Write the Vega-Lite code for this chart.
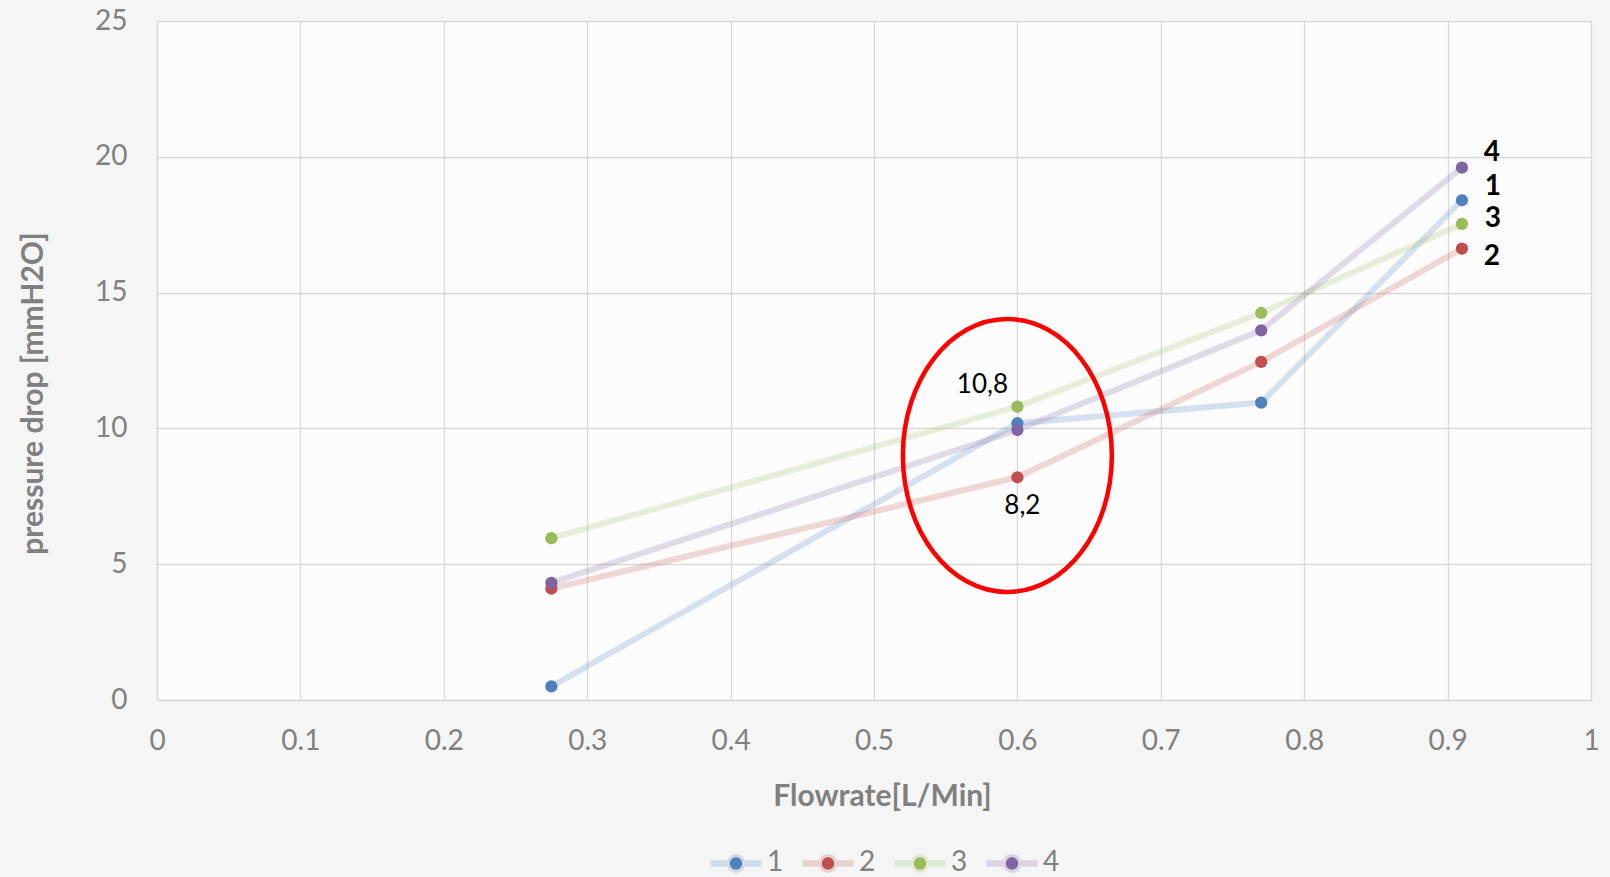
{
  "$schema": "https://vega.github.io/schema/vega-lite/v6.json",
  "width": 1434,
  "height": 679,
  "autosize": {"type": "none"},
  "padding": {"left": 157, "top": 21, "right": 19, "bottom": 177},
  "background": "#f5f5f5",
  "config": {
    "view": {"stroke": null, "fill": "#fcfcfc"},
    "font": "Lato",
    "axis": {
      "gridColor": "#d9d9d9",
      "gridWidth": 1.3,
      "domainColor": "#d9d9d9",
      "domainWidth": 1.5,
      "ticks": false,
      "labelColor": "#808080",
      "labelFontSize": 28,
      "labelFont": "Lato",
      "labelFlush": false,
      "titleColor": "#808080",
      "titleFontSize": 30,
      "titleFontWeight": "bold",
      "titleFont": "Lato"
    }
  },
  "datasets": {
    "main": [
      {"series": "1", "flow": 0.275, "pressure": 0.5},
      {"series": "1", "flow": 0.6, "pressure": 10.19},
      {"series": "1", "flow": 0.77, "pressure": 10.95},
      {"series": "1", "flow": 0.91, "pressure": 18.4},
      {"series": "2", "flow": 0.275, "pressure": 4.1},
      {"series": "2", "flow": 0.6, "pressure": 8.2},
      {"series": "2", "flow": 0.77, "pressure": 12.45},
      {"series": "2", "flow": 0.91, "pressure": 16.62},
      {"series": "3", "flow": 0.275, "pressure": 5.96},
      {"series": "3", "flow": 0.6, "pressure": 10.8},
      {"series": "3", "flow": 0.77, "pressure": 14.25},
      {"series": "3", "flow": 0.91, "pressure": 17.53},
      {"series": "4", "flow": 0.275, "pressure": 4.31},
      {"series": "4", "flow": 0.6, "pressure": 9.94},
      {"series": "4", "flow": 0.77, "pressure": 13.61},
      {"series": "4", "flow": 0.91, "pressure": 19.6}
    ],
    "notes": [
      {"flow": 0.6, "pressure": 10.8, "label": "10,8"},
      {"flow": 0.6, "pressure": 8.2, "label": "8,2"}
    ],
    "ellipse": [
      {"flow": 0.593, "pressure": 9.0}
    ]
  },
  "encoding": {
    "x": {
      "field": "flow",
      "type": "quantitative",
      "scale": {"domain": [0, 1], "nice": false, "zero": false},
      "axis": {
        "values": [0, 0.1, 0.2, 0.3, 0.4, 0.5, 0.6, 0.7, 0.8, 0.9, 1],
        "format": "~g",
        "title": "Flowrate[L/Min]",
        "labelPadding": 27,
        "titleX": 725,
        "titleY": 96,
        "titleBaseline": "middle",
        "titleAlign": "center"
      }
    },
    "y": {
      "field": "pressure",
      "type": "quantitative",
      "scale": {"domain": [0, 25], "nice": false},
      "axis": {
        "values": [0, 5, 10, 15, 20, 25],
        "title": "pressure drop [mmH2O]",
        "labelPadding": 30,
        "titleX": -124,
        "titleY": 372,
        "titleAngle": -90,
        "titleBaseline": "middle",
        "titleAlign": "center"
      }
    }
  },
  "layer": [
    {
      "data": {"name": "main"},
      "mark": {"type": "line", "strokeWidth": 6, "strokeOpacity": 0.22},
      "encoding": {
        "color": {
          "field": "series",
          "type": "nominal",
          "scale": {"domain": ["1", "2", "3", "4"], "range": ["#4F81BD", "#C0504D", "#9BBB59", "#8064A2"]},
          "legend": {
            "orient": "none",
            "legendX": 550,
            "legendY": 813,
            "direction": "horizontal",
            "columns": 4,
            "title": null,
            "padding": 0,
            "symbolType": "M -1 0 L 1 0 M 0.24 0 C 0.24 0.1325 0.1325 0.24 0 0.24 C -0.1325 0.24 -0.24 0.1325 -0.24 0 C -0.24 -0.1325 -0.1325 -0.24 0 -0.24 C 0.1325 -0.24 0.24 -0.1325 0.24 0 Z",
            "symbolSize": 2601,
            "symbolOpacity": 1,
            "labelFontSize": 28,
            "labelColor": "#808080",
            "labelFont": "Lato",
            "labelOffset": 2,
            "columnPadding": 5,
            "encode": {
              "symbols": {
                "update": {
                  "fill": {"scale": "color", "field": "value"},
                  "fillOpacity": {"value": 1},
                  "stroke": {"scale": "color", "field": "value"},
                  "strokeOpacity": {"value": 0.22},
                  "strokeWidth": {"value": 6.5},
                  "opacity": {"value": 1}
                }
              }
            }
          }
        }
      }
    },
    {
      "data": {"name": "main"},
      "mark": {"type": "point", "filled": true, "size": 150, "opacity": 1},
      "encoding": {
        "color": {
          "field": "series",
          "type": "nominal",
          "scale": {"domain": ["1", "2", "3", "4"], "range": ["#4F81BD", "#C0504D", "#9BBB59", "#8064A2"]},
          "legend": {
            "orient": "none",
            "legendX": 550,
            "legendY": 813,
            "direction": "horizontal",
            "columns": 4,
            "title": null,
            "padding": 0,
            "symbolType": "M -1 0 L 1 0 M 0.24 0 C 0.24 0.1325 0.1325 0.24 0 0.24 C -0.1325 0.24 -0.24 0.1325 -0.24 0 C -0.24 -0.1325 -0.1325 -0.24 0 -0.24 C 0.1325 -0.24 0.24 -0.1325 0.24 0 Z",
            "symbolSize": 2601,
            "symbolOpacity": 1,
            "labelFontSize": 28,
            "labelColor": "#808080",
            "labelFont": "Lato",
            "labelOffset": 2,
            "columnPadding": 5,
            "encode": {
              "symbols": {
                "update": {
                  "fill": {"scale": "color", "field": "value"},
                  "fillOpacity": {"value": 1},
                  "stroke": {"scale": "color", "field": "value"},
                  "strokeOpacity": {"value": 0.22},
                  "strokeWidth": {"value": 6.5},
                  "opacity": {"value": 1}
                }
              }
            }
          }
        }
      }
    },
    {
      "data": {"name": "notes"},
      "transform": [{"filter": "datum.label == '10,8'"}],
      "mark": {"type": "text", "dx": -35, "dy": -22, "fontSize": 26, "color": "#000000", "font": "Lato", "baseline": "middle", "align": "center"},
      "encoding": {"text": {"field": "label"}}
    },
    {
      "data": {"name": "notes"},
      "transform": [{"filter": "datum.label == '8,2'"}],
      "mark": {"type": "text", "dx": 5, "dy": 29, "fontSize": 26, "color": "#000000", "font": "Lato", "baseline": "middle", "align": "center"},
      "encoding": {"text": {"field": "label"}}
    },
    {
      "data": {"name": "main"},
      "transform": [{"filter": "datum.flow == 0.91 && datum.series == '4'"}],
      "mark": {"type": "text", "dx": 30, "dy": -15, "fontSize": 28, "fontWeight": "bold", "color": "#000000", "font": "Lato", "baseline": "middle", "align": "center"},
      "encoding": {"text": {"field": "series"}}
    },
    {
      "data": {"name": "main"},
      "transform": [{"filter": "datum.flow == 0.91 && datum.series == '1'"}],
      "mark": {"type": "text", "dx": 31, "dy": -13, "fontSize": 28, "fontWeight": "bold", "color": "#000000", "font": "Lato", "baseline": "middle", "align": "center"},
      "encoding": {"text": {"field": "series"}}
    },
    {
      "data": {"name": "main"},
      "transform": [{"filter": "datum.flow == 0.91 && datum.series == '3'"}],
      "mark": {"type": "text", "dx": 31, "dy": -5, "fontSize": 28, "fontWeight": "bold", "color": "#000000", "font": "Lato", "baseline": "middle", "align": "center"},
      "encoding": {"text": {"field": "series"}}
    },
    {
      "data": {"name": "main"},
      "transform": [{"filter": "datum.flow == 0.91 && datum.series == '2'"}],
      "mark": {"type": "text", "dx": 30, "dy": 8, "fontSize": 28, "fontWeight": "bold", "color": "#000000", "font": "Lato", "baseline": "middle", "align": "center"},
      "encoding": {"text": {"field": "series"}}
    },
    {
      "data": {"name": "ellipse"},
      "mark": {
        "type": "point",
        "shape": "M 1 0 C 1 0.7213 0.5523 1.306 0 1.306 C -0.5523 1.306 -1 0.7213 -1 0 C -1 -0.7213 -0.5523 -1.306 0 -1.306 C 0.5523 -1.306 1 -0.7213 1 0 Z",
        "size": 43681,
        "filled": false,
        "color": "#ff0000",
        "stroke": "#ff0000",
        "strokeWidth": 4.5,
        "opacity": 1
      }
    }
  ]
}
